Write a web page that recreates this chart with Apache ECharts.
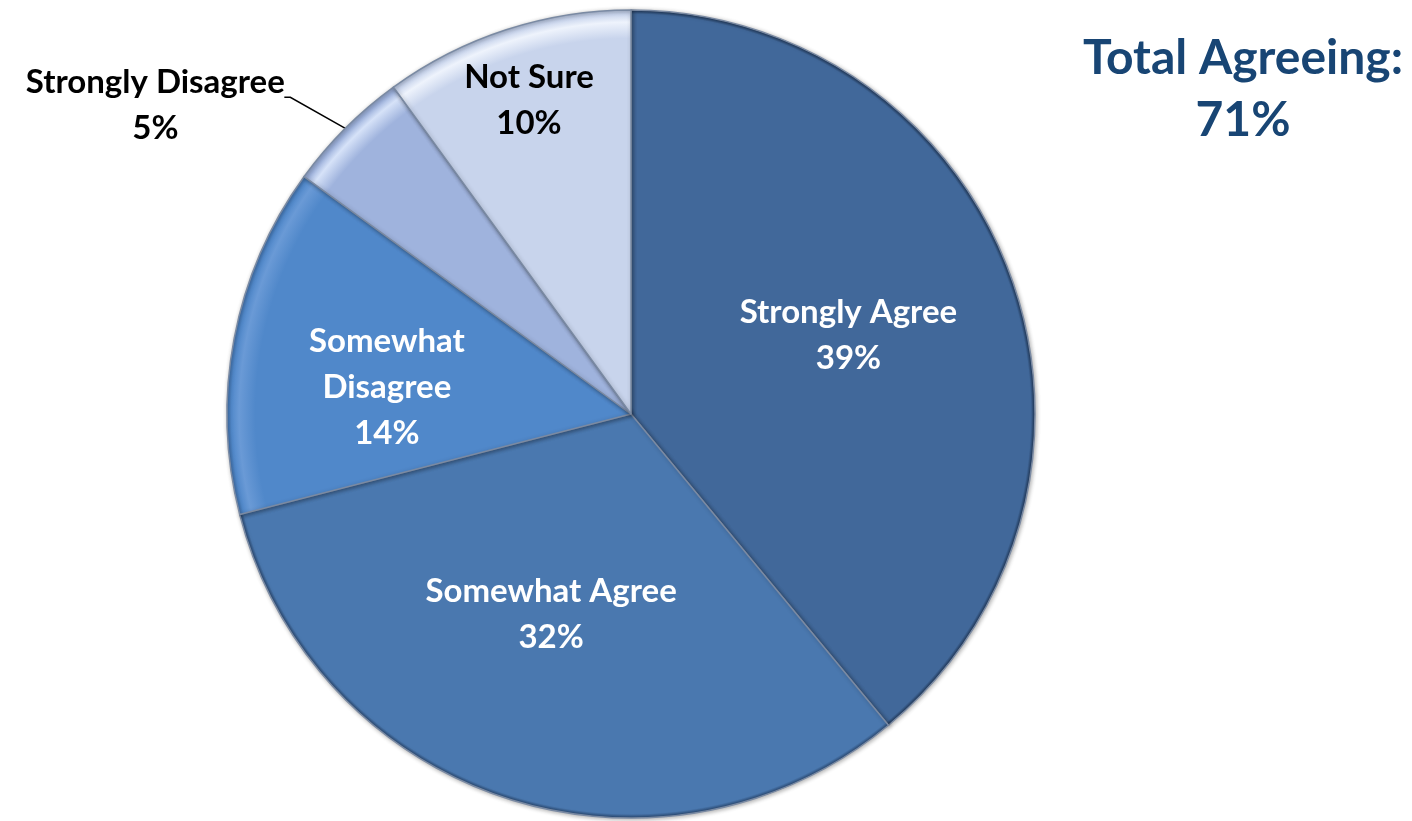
<!DOCTYPE html>
<html>
<head>
<meta charset="utf-8">
<script src="https://cdn.jsdelivr.net/npm/echarts@6/dist/echarts.min.js"></script>
<style>
  html, body { margin: 0; padding: 0; background: #ffffff; }
  #chart { width: 1412px; height: 821px; }
</style>
</head>
<body>
<div id="chart"></div>
<script>
// Survey responses, clockwise from 12 o'clock
const categories = ['Strongly Agree', 'Somewhat Agree', 'Somewhat Disagree', 'Strongly Disagree', 'Not Sure'];
const shares = [39, 32, 14, 5, 10];
const labelText = ['Strongly Agree', 'Somewhat Agree', 'Somewhat\nDisagree', 'Strongly Disagree', 'Not Sure'];
const totalAgreeing = 71;

// Styling per slice
const baseColors = ['#41689a', '#4a78af', '#5088ca', '#9fb3dd', '#c8d4ec'];
const glowColors = ['#41689a', '#4a78af', '#6a9ad6', '#d6e2f8', '#eef3fc'];
const rimColors  = ['#1d3352', '#28466e', '#3f6da6', '#8d9fc4', '#a9b6cf'];
const labelColors = ['#ffffff', '#ffffff', '#ffffff', '#000000', '#000000'];
const labelRadius = [0.572, 0.535, 0.608, 1.0, 0.817];
const labelTurn = [0, 3.7, -4.5, 0, 0];

const CX = 631, CY = 414, R = 404;
const FONT = 'Lato, "Open Sans", sans-serif';

const chart = echarts.init(document.getElementById('chart'), null, { renderer: 'canvas' });

// soft bevel: light band just inside the arc, darker at the very edge
function sliceFill(i) {
  return new echarts.graphic.RadialGradient(CX, CY, R, [
    { offset: 0, color: baseColors[i] },
    { offset: 0.93, color: baseColors[i] },
    { offset: 0.97, color: glowColors[i] },
    { offset: 0.99, color: baseColors[i] },
    { offset: 1, color: rimColors[i] }
  ], true);
}

const total = shares.reduce((a, b) => a + b, 0);
const midAngles = [];
let acc = 0;
shares.forEach(v => { midAngles.push((acc + v / 2) / total * 360); acc += v; });

function polar(angleDeg, r) {
  const t = angleDeg * Math.PI / 180;
  return [CX + r * Math.sin(t), CY - r * Math.cos(t)];
}

const data = categories.map((name, i) => ({
  name: name,
  value: shares[i],
  itemStyle: { color: sliceFill(i) },
  label: {
    color: labelColors[i],
    position: i === 3 ? 'outside' : 'inside'
  },
  labelLine: { show: i === 3 }
}));

chart.setOption({
  backgroundColor: '#ffffff',
  animation: false,
  title: {
    text: 'Total Agreeing:\n' + totalAgreeing + '%',
    left: 1238,
    top: 23,
    textAlign: 'center',
    textStyle: {
      fontFamily: FONT,
      fontWeight: 'bold',
      fontSize: 48,
      lineHeight: 62,
      color: '#184574'
    }
  },
  series: [{
    type: 'pie',
    center: [CX, CY],
    radius: [0, R],
    startAngle: 90,
    clockwise: true,
    avoidLabelOverlap: false,
    data: data,
    itemStyle: {
      borderColor: '#7a8aa3',
      borderWidth: 1.5,
      shadowBlur: 4,
      shadowColor: 'rgba(0,0,0,0.3)',
      shadowOffsetX: 1,
      shadowOffsetY: 1
    },
    label: {
      show: true,
      formatter: p => labelText[p.dataIndex] + '\n' + p.value + '%',
      fontFamily: FONT,
      fontWeight: 'bold',
      fontSize: 33,
      lineHeight: 46,
      align: 'center'
    },
    labelLine: {
      lineStyle: { color: '#000000', width: 1.5 }
    },
    labelLayout: function (params) {
      const i = params.dataIndex;
      if (i === 3) {
        const edge = polar(midAngles[i], R);
        const knee = [edge[0] - 55, edge[1] - 31];
        const end = [knee[0] - 6, knee[1]];
        return {
          x: edge[0] - 190,
          y: edge[1] - 23,
          align: 'center',
          verticalAlign: 'middle',
          labelLinePoints: [edge, knee, end]
        };
      }
      const p = polar(midAngles[i] + labelTurn[i], R * labelRadius[i]);
      return { x: p[0], y: p[1], align: 'center', verticalAlign: 'middle' };
    }
  }]
});
</script>
</body>
</html>
